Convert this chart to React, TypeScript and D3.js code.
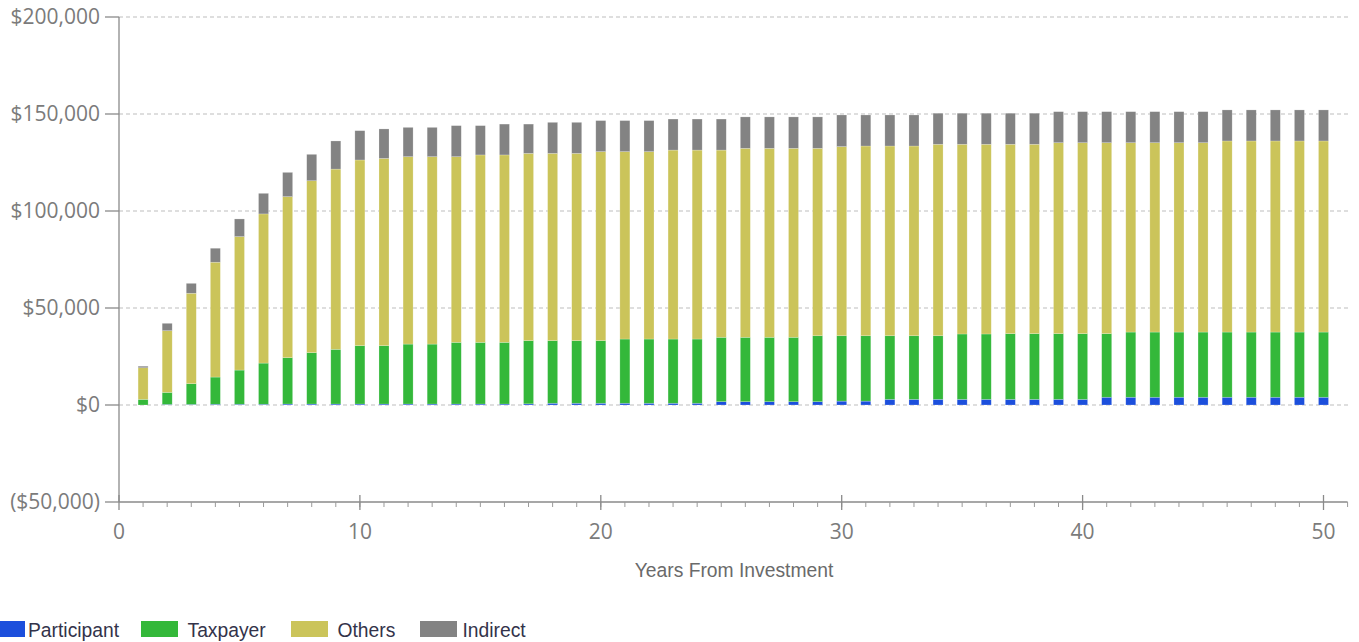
import React from "react";
import * as d3 from "d3";

// values in $ thousands
const years = d3.range(1, 51);
const participant = [
  0.0, 0.3, 0.3, 0.4, 0.4, 0.4, 0.5, 0.5, 0.5, 0.5,
  0.5, 0.5, 0.5, 0.5, 0.5, 0.5, 0.6, 0.9, 0.9, 0.9,
  0.9, 0.9, 0.9, 0.9, 1.7, 1.7, 1.7, 1.7, 1.7, 2.0,
  2.0, 2.9, 2.9, 2.9, 2.9, 2.9, 2.9, 2.9, 2.9, 2.9,
  4.0, 4.0, 4.0, 4.0, 4.0, 4.0, 4.0, 4.0, 4.0, 4.0,
];
const taxpayer = [
  2.9, 6.2, 10.7, 14.0, 17.6, 21.2, 23.9, 26.5, 28.2, 30.1,
  30.1, 30.9, 30.9, 31.8, 31.8, 31.8, 32.6, 32.3, 32.3, 32.3,
  33.1, 33.1, 33.1, 33.1, 33.2, 33.2, 33.2, 33.2, 34.0, 33.7,
  33.7, 32.8, 32.8, 32.8, 33.7, 33.7, 33.9, 33.9, 33.9, 33.9,
  32.8, 33.6, 33.6, 33.6, 33.6, 33.6, 33.6, 33.6, 33.6, 33.6,
];
const others = [
  16.3, 31.8, 46.6, 59.2, 68.8, 76.9, 83.0, 88.6, 92.9, 95.7,
  96.5, 96.6, 96.6, 95.7, 96.6, 96.6, 96.5, 96.5, 96.5, 97.4,
  96.6, 96.6, 97.4, 97.4, 96.5, 97.4, 97.4, 97.4, 96.6, 97.5,
  97.8, 97.8, 97.8, 98.7, 97.8, 97.8, 97.6, 97.6, 98.4, 98.4,
  98.4, 97.6, 97.6, 97.6, 97.6, 98.5, 98.5, 98.5, 98.5, 98.5,
];
const indirect = [
  0.8, 3.8, 5.1, 7.2, 9.1, 10.6, 12.5, 13.6, 14.5, 15.1,
  15.2, 15.1, 15.1, 16.0, 15.1, 15.9, 15.1, 16.0, 16.0, 16.0,
  16.0, 16.0, 16.0, 16.0, 16.0, 16.2, 16.2, 16.2, 16.2, 16.3,
  16.0, 16.0, 16.0, 16.0, 16.0, 16.0, 16.0, 16.0, 16.0, 16.0,
  16.0, 16.0, 16.0, 16.0, 16.0, 16.0, 16.0, 16.0, 16.0, 16.0,
];
const seriesNames = ["Participant", "Taxpayer", "Others", "Indirect"];
const seriesColors = ["#1c4fdc", "#34b83a", "#cbc45a", "#838383"];
const yTicks = [-50000, 0, 50000, 100000, 150000, 200000];
const xTicks = [0, 10, 20, 30, 40, 50];
const xTitle = "Years From Investment";

const W = 1359;
const H = 642;
const tickFont = "'Open Sans', 'DejaVu Sans', sans-serif";
const labelFont = "'Liberation Sans', Arial, sans-serif";

export default function App() {
  const x = d3.scaleLinear().domain([0, 51.1]).range([119, 1350]);
  const y = d3.scaleLinear().domain([-50000, 200000]).range([502, 17]);

  const rows = years.map((yr, i) => ({
    year: yr,
    Participant: participant[i] * 1000,
    Taxpayer: taxpayer[i] * 1000,
    Others: others[i] * 1000,
    Indirect: indirect[i] * 1000,
  }));
  const stacked = d3.stack<any>().keys(seriesNames)(rows);

  const fmt = (v: number) => {
    const s = "$" + d3.format(",")(Math.abs(v));
    return v < 0 ? `(${s})` : s;
  };
  const barW = 10;
  const minor = d3.range(1, 52);
  const legendX = [-12, 141, 291, 420];
  const legendTextX = [28, 187.5, 337.5, 462.5];

  return (
    <svg width={W} height={H} style={{ position: "absolute", left: 0, top: 0, background: "#fff" }}>
      {/* gridlines */}
      {yTicks.filter(t => t > -50000).map(t => (
        <line key={"g" + t} x1={x(0)} x2={1350} y1={y(t)} y2={y(t)}
          stroke="#bdbdbd" strokeWidth={1} strokeDasharray="4,3" />
      ))}

      {/* bars */}
      {stacked.map((s, si) => (
        <g key={s.key} fill={seriesColors[si]}>
          {s.map((d, i) => {
            const h = y(d[0]) - y(d[1]);
            if (h <= 0.05) return null;
            return (
              <rect key={i} x={x(rows[i].year) - barW / 2} y={y(d[1])} width={barW} height={h}
                stroke="#ffffff" strokeOpacity={0.35} strokeWidth={0.6} />
            );
          })}
        </g>
      ))}

      {/* y axis */}
      <line x1={x(0)} x2={x(0)} y1={y(200000)} y2={y(-50000)} stroke="#8a8a8a" strokeWidth={1.3} />
      {yTicks.map(t => (
        <g key={"y" + t}>
          <line x1={105} x2={x(0)} y1={y(t)} y2={y(t)} stroke="#8a8a8a" strokeWidth={1.3} />
          <text x={100} y={y(t)} dy="0.35em" textAnchor="end" fontFamily={tickFont}
            fontSize={21} fill="#7b7b7b">{fmt(t)}</text>
        </g>
      ))}

      {/* x axis */}
      <line x1={x(0)} x2={x(51)} y1={y(-50000)} y2={y(-50000)} stroke="#8a8a8a" strokeWidth={1.3} />
      {minor.map(m => (
        <line key={"m" + m} x1={x(m)} x2={x(m)} y1={y(-50000)} y2={y(-50000) + 5}
          stroke="#9a9a9a" strokeWidth={1} />
      ))}
      {xTicks.map(t => (
        <g key={"x" + t}>
          <line x1={x(t)} x2={x(t)} y1={y(-50000) - 7} y2={y(-50000) + 8} stroke="#8a8a8a" strokeWidth={1.3} />
          <text x={x(t)} y={532} dy="0.35em" textAnchor="middle" fontFamily={tickFont}
            fontSize={21} fill="#7b7b7b">{t}</text>
        </g>
      ))}
      <text x={734} y={577} textAnchor="middle" fontFamily={labelFont} fontSize={19.3} fill="#6a6a6a">
        {xTitle}
      </text>

      {/* legend */}
      {seriesNames.map((n, i) => (
        <g key={"l" + n}>
          <rect x={legendX[i]} y={621} width={37} height={16} fill={seriesColors[i]} />
          <text x={legendTextX[i]} y={636.5} fontFamily={labelFont} fontSize={19.3} fill="#33334a">{n}</text>
        </g>
      ))}
    </svg>
  );
}
